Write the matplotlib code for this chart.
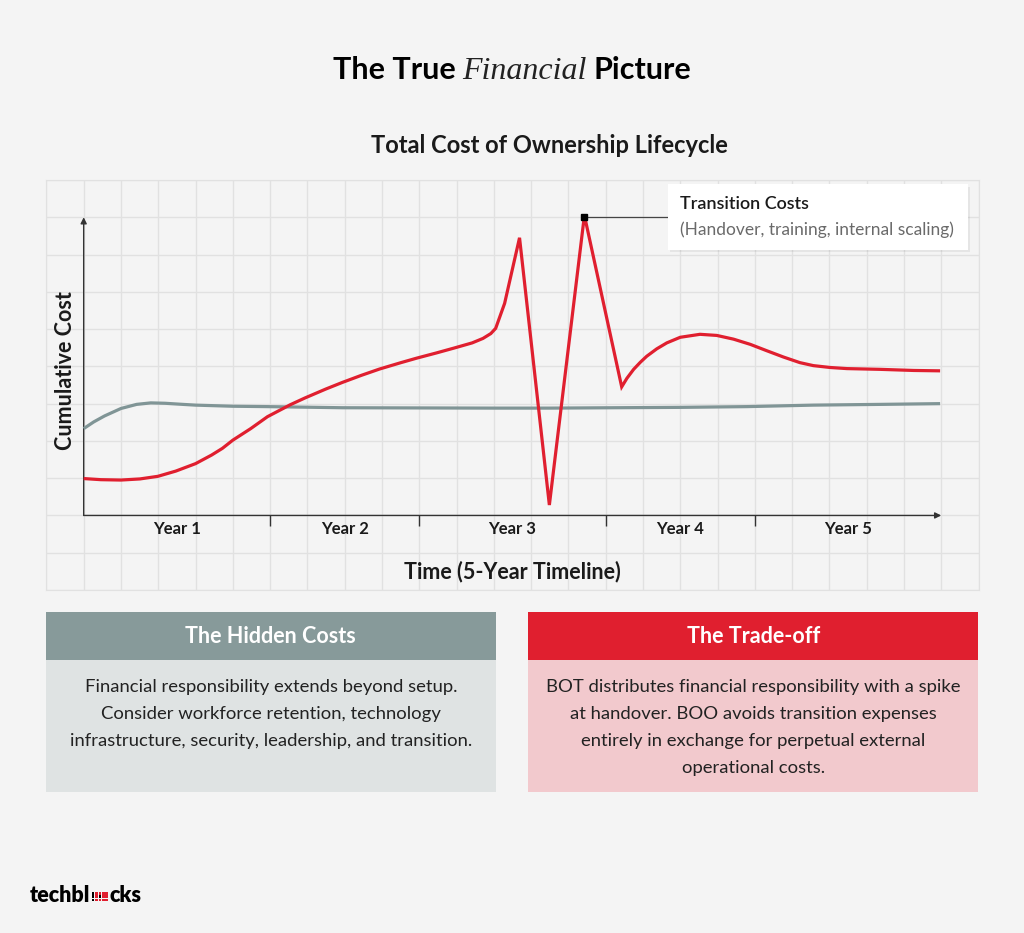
import matplotlib.pyplot as plt
from matplotlib.patches import Rectangle

# x is measured in timeline steps (one grid cell each), y in cost units (one grid cell each)
year_labels = ["Year 1", "Year 2", "Year 3", "Year 4", "Year 5"]
year_edges = [0, 5, 9, 14, 18, 23]

# BOT path (red) - ramps up, spikes at handover, settles higher
bot_t = [0.0, 0.46, 1.0, 1.51, 1.99, 2.47, 3.0, 3.43, 3.72, 4.0, 4.48, 4.93, 5.54,
         5.93, 6.49, 6.94, 7.45, 7.94, 8.51, 8.93, 9.46, 9.93, 10.42, 10.71, 10.92,
         11.05, 11.29, 11.69, 12.49, 13.43, 14.43, 14.57, 14.75, 14.93, 15.10, 15.37,
         15.64, 16.0, 16.53, 16.98, 17.43, 17.88, 18.32, 18.77, 19.21, 19.57, 20.02,
         20.47, 21.36, 22.26, 22.97]
bot_cost = [0.99, 0.96, 0.95, 0.98, 1.05, 1.19, 1.39, 1.62, 1.80, 2.02, 2.33, 2.65,
            2.97, 3.15, 3.39, 3.57, 3.76, 3.93, 4.10, 4.22, 4.36, 4.49, 4.63, 4.75,
            4.88, 5.02, 5.69, 7.45, 0.28, 8.05, 3.45, 3.68, 3.92, 4.11, 4.27, 4.47,
            4.63, 4.78, 4.86, 4.83, 4.73, 4.59, 4.42, 4.25, 4.10, 4.02, 3.97, 3.94,
            3.92, 3.89, 3.88]

# BOO path (grey) - flat external operating cost
boo_t = [0.0, 0.27, 0.56, 1.0, 1.42, 1.8, 2.18, 2.66, 3.0, 4.0, 4.93, 6.94, 11.0,
         12.49, 14.2, 16.0, 17.79, 19.57, 21.36, 22.97]
boo_cost = [2.33, 2.51, 2.67, 2.87, 2.98, 3.02, 3.01, 2.98, 2.96, 2.93, 2.92, 2.89,
            2.88, 2.88, 2.89, 2.90, 2.92, 2.96, 2.98, 3.00]

peak_t, peak_cost = 13.43, 8.0

hidden_lines = ["Financial responsibility extends beyond setup.",
                "Consider workforce retention, technology",
                "infrastructure, security, leadership, and transition."]
tradeoff_lines = ["BOT distributes financial responsibility with a spike",
                  "at handover. BOO avoids transition expenses",
                  "entirely in exchange for perpetual external",
                  "operational costs."]

BG = "#F4F4F4"
RED = "#E01F2F"
GREY = "#809596"
INK = "#1A1A1A"
SANS = ["Lato", "DejaVu Sans"]

plt.rcParams["font.family"] = SANS

fig = plt.figure(figsize=(10.24, 9.33), dpi=100)
fig.patch.set_facecolor(BG)

# chart panel
ax = fig.add_axes([46.4 / 1024, 1 - 590 / 933, 932.1 / 1024, 410 / 933])
ax.set_facecolor(BG)
ax.set_xlim(-1, 24)
ax.set_ylim(-2, 9)
ax.set_xticks(range(-1, 25))
ax.set_yticks(range(-2, 10))
ax.grid(color="#E1E1E1", lw=1)
ax.tick_params(length=0, labelbottom=False, labelleft=False)
for s in ax.spines.values():
    s.set_color("#E1E1E1")

ax.annotate("", xy=(23, 0), xytext=(0, 0),
            arrowprops=dict(arrowstyle="-|>", color="#333333", lw=1, mutation_scale=9,
                            shrinkA=0, shrinkB=0))
ax.annotate("", xy=(0, 8), xytext=(0, 0),
            arrowprops=dict(arrowstyle="-|>", color="#333333", lw=1, mutation_scale=9,
                            shrinkA=0, shrinkB=0))
ax.vlines(year_edges[1:-1], -0.27, 0, color="#333333", lw=1)
for i, lab in enumerate(year_labels):
    mid = (year_edges[i] + year_edges[i + 1]) / 2
    ax.text(mid, -0.36, lab, ha="center", va="center", fontsize=12,
            fontweight="bold", color=INK)

ax.plot(boo_t, boo_cost, color=GREY, lw=2.3, solid_capstyle="butt", zorder=3)
ax.plot(bot_t, bot_cost, color=RED, lw=2.3, solid_joinstyle="miter",
        solid_capstyle="butt", zorder=4)
ax.plot([peak_t, 15.67], [peak_cost, peak_cost], color="#444444", lw=0.9, zorder=5)
ax.plot([peak_t], [peak_cost], marker="s", ms=5, color="black", zorder=6)

ax.set_ylabel("Cumulative Cost", fontsize=15.5, fontweight="bold", color=INK,
              va="center")
ax.yaxis.set_label_coords(0.02, 0.534)
ax.set_xlabel("Time (5-Year Timeline)", fontsize=15.5, fontweight="bold",
              color=INK, va="center")
ax.xaxis.set_label_coords(0.5, 0.0446)

# overlay in pixel coordinates for the layout pieces
ov = fig.add_axes([0, 0, 1, 1])
ov.set_xlim(0, 1024)
ov.set_ylim(933, 0)
ov.axis("off")
ov.patch.set_alpha(0)

r = fig.canvas.get_renderer()


def place_row(pieces, cx, base, gap):
    texts = [ov.text(0, base, s, va="baseline", **kw) for s, kw in pieces]
    widths = [t.get_window_extent(r).width for t in texts]
    x = cx - (sum(widths) + gap * (len(texts) - 1)) / 2
    for t, w in zip(texts, widths):
        t.set_x(x)
        x += w + gap


place_row([("The True", dict(fontsize=22, fontweight="bold", color="black")),
           ("Financial", dict(fontsize=23, style="italic", family="Liberation Serif",
                              color="#222222")),
           ("Picture", dict(fontsize=22, fontweight="bold", color="black"))],
          512, 79, 7)
ov.text(549.7, 152.7, "Total Cost of Ownership Lifecycle", ha="center", va="baseline",
        fontsize=17, fontweight="bold", color=INK)

# callout box
ov.add_patch(Rectangle((669.5, 186.5), 300.6, 65.7, color="#000000", alpha=0.06, lw=0))
ov.add_patch(Rectangle((667.7, 184.3), 300.6, 65.7, facecolor="white", lw=0))
ov.text(680, 204, "Transition Costs", va="center", fontsize=13, fontweight="semibold",
        color=INK)
ov.text(680, 229.5, "(Handover, training, internal scaling)", va="center",
        fontsize=12.5, color="#6A6A6A")

# summary boxes
for x0, head, body, title, lines in [
        (46, "#879A9A", "#DFE3E3", "The Hidden Costs", hidden_lines),
        (528.3, RED, "#F2C9CD", "The Trade-off", tradeoff_lines)]:
    w = 449.7
    ov.add_patch(Rectangle((x0, 612.3), w, 47.7, facecolor=head, lw=0))
    ov.add_patch(Rectangle((x0, 660), w, 131.7, facecolor=body, lw=0))
    ov.text(x0 + w / 2, 636.7, title, ha="center", va="center", fontsize=15.5,
            fontweight="bold", color="white")
    for k, line in enumerate(lines):
        ov.text(x0 + w / 2, 687.3 + 27 * k, line, ha="center", va="center",
                fontsize=13.3, color="#222222")

# logo
t1 = ov.text(30, 901.5, "techbl", va="baseline", fontsize=15.5, fontweight="heavy",
             color="black")
x = 30 + t1.get_window_extent(r).width + 1.5
cell, gap = 2.6, 0.8
for row in range(3):
    for col in range(5):
        c = "black" if col == 0 or (col == 2 and row == 1) else RED
        ov.add_patch(Rectangle((x + col * (cell + gap), 892 + row * (cell + gap)),
                               cell, cell, facecolor=c, lw=0))
x += 5 * (cell + gap) + 1
ov.text(x, 901.5, "cks", va="baseline", fontsize=15.5, fontweight="heavy", color="black")

fig.savefig("out.png", dpi=100, facecolor=BG)
